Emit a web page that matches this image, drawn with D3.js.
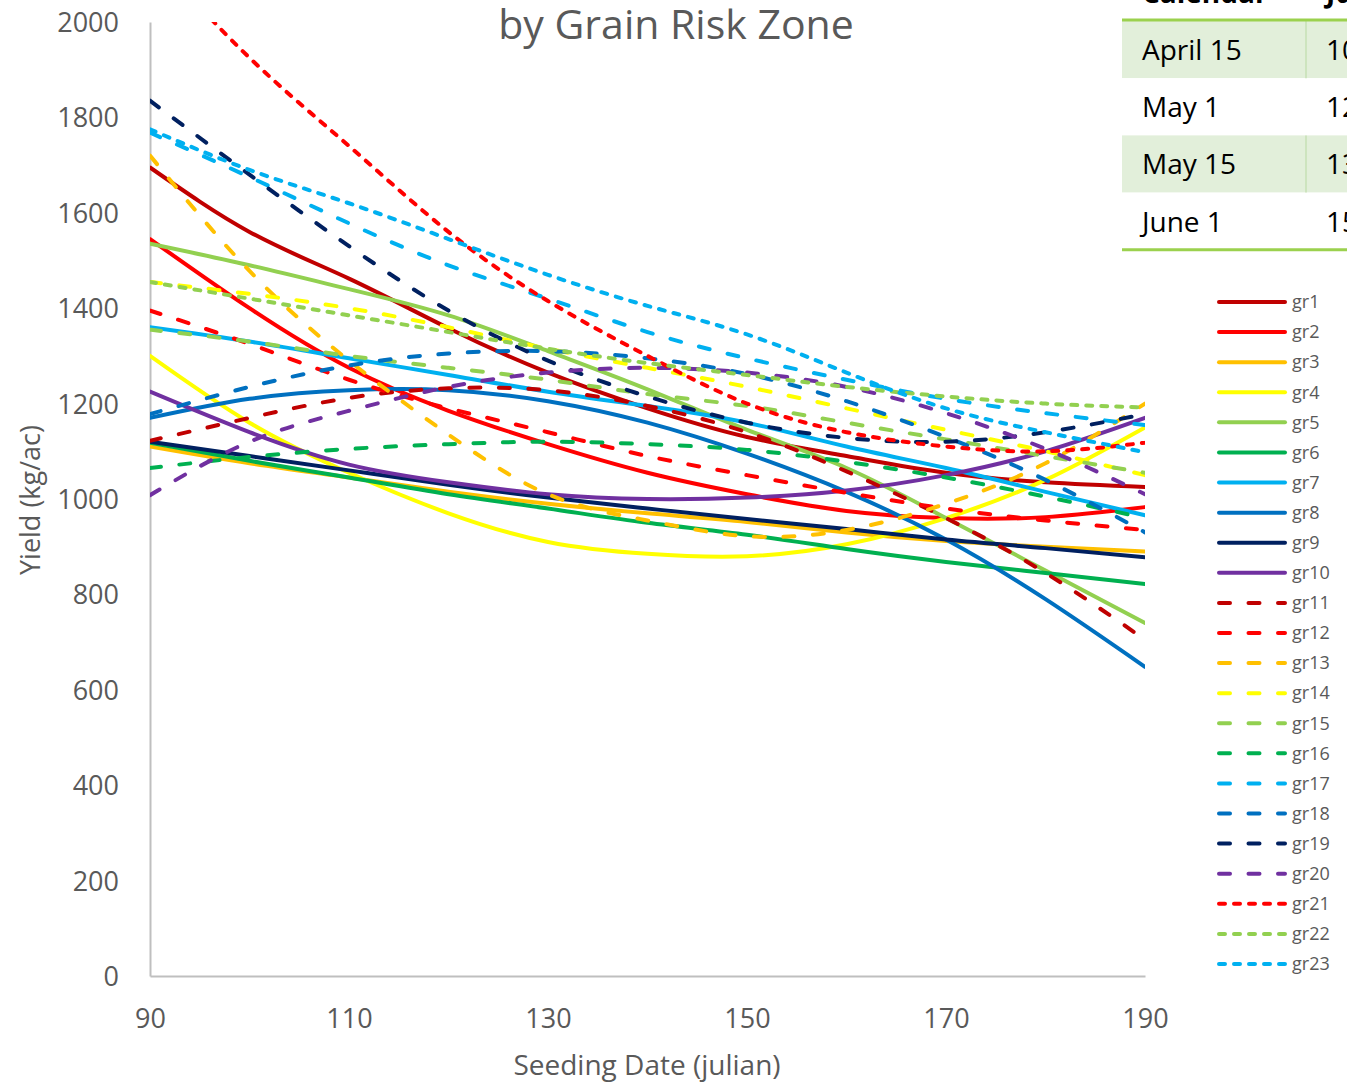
<!DOCTYPE html>
<html>
<head>
<meta charset="utf-8">
<script src="https://cdn.jsdelivr.net/npm/d3@7"></script>
<style>
  body { margin: 0; background: #fff; overflow: hidden; }
  text { font-family: "Open Sans", sans-serif; }
</style>
</head>
<body>
<div id="chart"></div>
<script>
const width = 1347;
const height = 1082;

// seeding dates (julian) where the curves are read
const seedDays = [90, 100, 110, 120, 130, 140, 150, 160, 170, 180, 190];

// yield (kg/ac) per grain risk zone
const gr1  = [1695, 1560, 1462, 1358, 1265, 1190, 1130, 1090, 1055, 1035, 1025];
const gr2  = [1545, 1400, 1275, 1185, 1115, 1055, 1010, 975, 960, 962, 983];
const gr3  = [1110, 1075, 1045, 1015, 990, 970, 952, 930, 912, 900, 890];
const gr4  = [1300, 1160, 1055, 970, 910, 885, 880, 905, 960, 1040, 1150];
const gr5  = [1535, 1490, 1440, 1385, 1310, 1230, 1145, 1065, 960, 850, 740];
const gr6  = [1118, 1080, 1045, 1010, 980, 950, 925, 895, 868, 845, 822];
const gr7  = [1360, 1330, 1295, 1260, 1225, 1195, 1160, 1110, 1065, 1015, 966];
const gr8  = [1170, 1210, 1228, 1228, 1205, 1160, 1095, 1015, 915, 790, 648];
const gr9  = [1120, 1090, 1060, 1030, 1003, 980, 958, 937, 915, 897, 878];
const gr10 = [1225, 1140, 1072, 1035, 1010, 1000, 1003, 1018, 1050, 1100, 1170];
const gr11 = [1122, 1170, 1212, 1232, 1228, 1195, 1140, 1058, 960, 845, 705];
const gr12 = [1395, 1325, 1250, 1190, 1140, 1090, 1050, 1013, 980, 955, 935];
const gr13 = [1720, 1478, 1290, 1135, 1010, 955, 922, 935, 990, 1075, 1200];
const gr14 = [1455, 1430, 1400, 1360, 1315, 1275, 1235, 1190, 1145, 1100, 1050];
const gr15 = [1355, 1330, 1300, 1275, 1250, 1220, 1195, 1160, 1125, 1090, 1055];
const gr16 = [1065, 1088, 1105, 1115, 1120, 1115, 1103, 1078, 1045, 1005, 960];
const gr17 = [1768, 1675, 1578, 1490, 1420, 1350, 1295, 1250, 1210, 1180, 1155];
const gr18 = [1178, 1235, 1280, 1305, 1310, 1295, 1262, 1205, 1130, 1040, 930];
const gr19 = [1835, 1680, 1530, 1395, 1290, 1215, 1160, 1128, 1120, 1140, 1178];
const gr20 = [1008, 1120, 1185, 1235, 1265, 1275, 1265, 1235, 1180, 1105, 1010];
const gr21 = [2145, 1925, 1740, 1560, 1415, 1300, 1200, 1140, 1110, 1100, 1118];
const gr22 = [1455, 1420, 1385, 1350, 1315, 1285, 1260, 1235, 1215, 1200, 1192];
const gr23 = [1775, 1690, 1620, 1545, 1470, 1405, 1345, 1265, 1190, 1140, 1098];

const seriesNames = ["gr1","gr2","gr3","gr4","gr5","gr6","gr7","gr8","gr9","gr10","gr11","gr12",
                     "gr13","gr14","gr15","gr16","gr17","gr18","gr19","gr20","gr21","gr22","gr23"];
const seriesValues = [gr1, gr2, gr3, gr4, gr5, gr6, gr7, gr8, gr9, gr10, gr11, gr12,
                      gr13, gr14, gr15, gr16, gr17, gr18, gr19, gr20, gr21, gr22, gr23];

const palette = ["#C00000","#FF0000","#FFC000","#FFFF00","#92D050","#00B050","#00B0F0","#0070C0","#002060","#7030A0"];
// gr21..gr23 reuse red, light green and light blue
const extraColors = ["#FF0000", "#92D050", "#00B0F0"];

// calendar lookup table (top right)
const calendarDates = ["April 15", "May 1", "May 15", "June 1"];
const julianDays = ["105", "121", "135", "152"];

const xTicks = [90, 110, 130, 150, 170, 190];
const yTicks = d3.range(0, 2001, 200);

const lineWidth = 4;
const longDash = "11,18.5";
const shortDash = "6,9";
const textColor = "#595959";

function colorOf(i) { return i < 20 ? palette[i % 10] : extraColors[i - 20]; }
function dashOf(i) {
    if (i < 10) return null;
    if (i < 20) return longDash;
    return shortDash;
}

const svg = d3.select("#chart")
    .append("svg")
        .attr("width", width)
        .attr("height", height);

const x = d3.scaleLinear().domain([90, 190]).range([150, 1145]);
const y = d3.scaleLinear().domain([0, 2000]).range([976, 22]);

svg.append("defs").append("clipPath")
    .attr("id", "plot-clip")
    .append("rect")
        .attr("x", 150).attr("y", 22)
        .attr("width", 995).attr("height", 954);

// axes
const yAxis = svg.append("g")
    .attr("transform", "translate(150,0)")
    .call(d3.axisLeft(y).tickValues(yTicks).tickFormat(d3.format("d")).tickSize(0).tickPadding(31));
const xAxis = svg.append("g")
    .attr("transform", "translate(0,976)")
    .call(d3.axisBottom(x).tickValues(xTicks).tickSize(0).tickPadding(33));

[yAxis, xAxis].forEach(ax => {
    ax.select(".domain").attr("stroke", "#BFBFBF").attr("stroke-width", 2);
    ax.selectAll("text")
        .attr("fill", textColor)
        .style("font-size", "27px");
});
yAxis.selectAll("text").attr("dy", "0.35em");
xAxis.selectAll("text").attr("dy", "0.71em");

svg.append("text")
    .attr("x", 647).attr("y", 1075)
    .attr("text-anchor", "middle")
    .attr("fill", textColor)
    .style("font-size", "28px")
    .text("Seeding Date (julian)");

svg.append("text")
    .attr("transform", "translate(40,500) rotate(-90)")
    .attr("text-anchor", "middle")
    .attr("fill", textColor)
    .style("font-size", "27px")
    .text("Yield (kg/ac)");

svg.append("text")
    .attr("x", 676).attr("y", 39)
    .attr("text-anchor", "middle")
    .attr("fill", textColor)
    .style("font-size", "41px")
    .text("by Grain Risk Zone");

// curves
const line = d3.line()
    .x((d, i) => x(seedDays[i]))
    .y(d => y(d))
    .curve(d3.curveNatural);

svg.append("g")
    .attr("clip-path", "url(#plot-clip)")
    .selectAll("path")
    .data(seriesValues)
    .enter()
    .append("path")
        .attr("d", d => line(d))
        .attr("fill", "none")
        .attr("stroke", (d, i) => colorOf(i))
        .attr("stroke-width", lineWidth)
        .attr("stroke-linecap", "round")
        .attr("stroke-dasharray", (d, i) => dashOf(i));

// legend
const legend = svg.append("g")
    .selectAll(".legend-item")
    .data(seriesNames)
    .enter()
    .append("g")
    .attr("class", "legend-item")
    .attr("transform", (d, i) => "translate(0," + (302 + i * 30.09) + ")");

legend.append("line")
    .attr("x1", 1219).attr("x2", 1285)
    .attr("stroke", (d, i) => colorOf(i))
    .attr("stroke-width", lineWidth)
    .attr("stroke-linecap", "round")
    .attr("stroke-dasharray", (d, i) => dashOf(i));

legend.append("text")
    .attr("x", 1292)
    .attr("dy", "0.35em")
    .attr("fill", textColor)
    .style("font-size", "18px")
    .text(d => d);

// calendar table
const table = svg.append("g");
const rowTop = 21, rowH = 57.2;

table.selectAll(".row-bg")
    .data(calendarDates)
    .enter()
    .append("rect")
        .attr("x", 1122)
        .attr("y", (d, i) => rowTop + i * rowH)
        .attr("width", 230)
        .attr("height", rowH)
        .attr("fill", (d, i) => i % 2 === 0 ? "#E2EFDA" : "#FFFFFF");

table.selectAll(".col-sep")
    .data([0, 2])
    .enter()
    .append("line")
        .attr("x1", 1306).attr("x2", 1306)
        .attr("y1", d => rowTop + d * rowH)
        .attr("y2", d => rowTop + (d + 1) * rowH)
        .attr("stroke", "#C6E0B4")
        .attr("stroke-width", 1.5);

table.selectAll(".date")
    .data(calendarDates)
    .enter()
    .append("text")
        .attr("x", 1142)
        .attr("y", (d, i) => rowTop + i * rowH + 39)
        .attr("fill", "#000")
        .style("font-size", "28px")
        .text(d => d);

table.selectAll(".julian")
    .data(julianDays)
    .enter()
    .append("text")
        .attr("x", 1326)
        .attr("y", (d, i) => rowTop + i * rowH + 39)
        .attr("fill", "#000")
        .style("font-size", "28px")
        .text(d => d);

// header row, mostly above the visible area
table.append("text")
    .attr("x", 1142).attr("y", 3)
    .style("font-size", "28px").style("font-weight", "bold")
    .text("Calendar");
table.append("text")
    .attr("x", 1326).attr("y", 3)
    .style("font-size", "28px").style("font-weight", "bold")
    .text("Julian");

table.selectAll(".rule")
    .data([rowTop - 1, rowTop + 4 * rowH])
    .enter()
    .append("line")
        .attr("x1", 1122).attr("x2", 1352)
        .attr("y1", d => d).attr("y2", d => d)
        .attr("stroke", "#9BD14E")
        .attr("stroke-width", 3);
</script>
</body>
</html>
